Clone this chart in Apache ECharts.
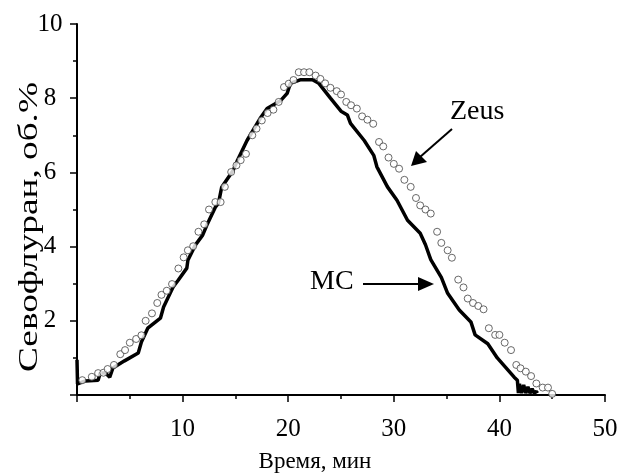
<!DOCTYPE html>
<html>
<head>
<meta charset="utf-8">
<script src="https://cdn.jsdelivr.net/npm/echarts@6/dist/echarts.min.js"></script>
<style>
  html, body { margin: 0; padding: 0; background: #fff; }
  #chart { width: 619px; height: 476px; }
</style>
</head>
<body>
<div id="chart"></div>
<script>
// оси
const xTicks = [0, 10, 20, 30, 40, 50];
const yTicks = [0, 2, 4, 6, 8, 10];

// МС (масс-спектрометр), время мин / об.%
const mcTime = [0, 0.05, 0.8, 2.0, 2.2, 2.7, 3.1, 3.4, 4.5, 5.8, 6.1, 6.7, 7.9, 8.2, 9.1, 9.6,
  10.4, 10.5, 11.2, 11.9, 12.3, 13.1, 13.4, 13.7, 14.8, 15.2, 16.1, 17.4, 18.0, 19.3, 19.9,
  20.2, 21.2, 22.3, 22.9, 24.0, 25.0, 25.6, 25.9, 27.2, 28.1, 28.4, 29.4, 30.3, 31.3, 32.5,
  33.0, 33.5, 34.5, 35.1, 36.2, 37.3, 37.7, 38.9, 39.8, 41.4, 41.7, 41.8, 41.9, 42.1, 42.3,
  42.5, 42.7, 42.9, 43.1, 43.3, 43.5, 43.6];
const mcValue = [0.95, 0.3, 0.38, 0.40, 0.59, 0.59, 0.48, 0.73, 0.92, 1.13, 1.43, 1.80, 2.07, 2.37, 2.91, 3.10,
  3.42, 3.63, 4.04, 4.31, 4.58, 5.06, 5.17, 5.6, 6.06, 6.33, 6.86, 7.48, 7.72, 7.94, 8.13,
  8.40, 8.50, 8.50, 8.40, 8.0, 7.65, 7.55, 7.32, 6.86, 6.46, 6.15, 5.61, 5.25, 4.71, 4.36,
  4.05, 3.65, 3.17, 2.74, 2.29, 1.97, 1.62, 1.38, 1.0, 0.48, 0.40, 0.05, 0.3, 0.05, 0.27,
  0.05, 0.22, 0.05, 0.17, 0.05, 0.1, 0.05];

// Zeus
const zeusTime = [0.5, 1.4, 2.0, 2.5, 2.9, 3.5, 4.1, 4.55, 5.0, 5.6, 6.1, 6.5, 7.1, 7.6, 8.0, 8.5, 9.0,
  9.6, 10.1, 10.5, 11.0, 11.5, 12.05, 12.5, 13.1, 13.6, 14.0, 14.6, 15.1, 15.5, 16.0, 16.6, 17.0,
  17.5, 18.05, 18.6, 19.1, 19.6, 20.05, 20.5, 21.0, 21.5, 22.0, 22.6, 23.05, 23.5, 24.0, 24.6,
  25.0, 25.5, 25.95, 26.5, 27.0, 27.5, 28.05, 28.6, 29.0, 29.5, 30.0, 30.5, 31.0, 31.6, 32.1,
  32.5, 33.0, 33.5, 34.1, 34.5, 35.1, 35.5, 36.1, 36.6, 37.0, 37.5, 38.0, 38.5, 39.0, 39.6,
  40.0, 40.5, 41.1, 41.6, 42.0, 42.5, 43.0, 43.5, 44.1, 44.6, 45.0];
const zeusValue = [0.40, 0.49, 0.59, 0.60, 0.70, 0.81, 1.10, 1.21, 1.41, 1.51, 1.61, 2.0, 2.2, 2.48, 2.70, 2.81, 2.99,
  3.41, 3.71, 3.90, 4.01, 4.40, 4.60, 5.0, 5.2, 5.2, 5.61, 6.01, 6.19, 6.33, 6.5, 7.0, 7.18,
  7.40, 7.60, 7.69, 7.90, 8.30, 8.39, 8.49, 8.70, 8.70, 8.70, 8.61, 8.52, 8.40, 8.28, 8.19,
  8.10, 7.90, 7.81, 7.72, 7.51, 7.42, 7.31, 6.82, 6.70, 6.40, 6.23, 6.10, 5.80, 5.61, 5.31,
  5.11, 5.0, 4.89, 4.40, 4.10, 3.90, 3.70, 3.11, 2.90, 2.60, 2.48, 2.40, 2.31, 1.80, 1.62,
  1.62, 1.41, 1.21, 0.81, 0.72, 0.63, 0.51, 0.31, 0.20, 0.20, 0.03];

const font = '"Liberation Serif", "Times New Roman", serif';

const drawChart = function () {
    let myChart = echarts.init(document.getElementById('chart'));

    let mcData = mcTime.map((t, i) => [t, mcValue[i]]);
    let zeusData = zeusTime.map((t, i) => [t, zeusValue[i]]);

    let axisCommon = {
        axisLine: { show: true, onZero: false, lineStyle: { color: '#000', width: 2 } },
        axisTick: { show: true, inside: false, length: 7, lineStyle: { color: '#000', width: 1.5 } },
        minorTick: { show: true, splitNumber: 2, length: 4, lineStyle: { color: '#000', width: 1.5 } },
        splitLine: { show: false }
    };

    let option = {
        animation: false,
        backgroundColor: '#fff',
        grid: { left: 77, right: 14, top: 24, bottom: 81, outerBoundsMode: 'none' },
        xAxis: Object.assign({}, axisCommon, {
            type: 'value',
            min: xTicks[0],
            max: xTicks[xTicks.length - 1],
            interval: xTicks[1] - xTicks[0],
            axisLabel: {
                margin: 22, fontFamily: font, fontSize: 25, color: '#000',
                formatter: v => v === 0 ? '' : v
            }
        }),
        yAxis: Object.assign({}, axisCommon, {
            type: 'value',
            min: yTicks[0],
            max: yTicks[yTicks.length - 1],
            interval: yTicks[1] - yTicks[0],
            axisLabel: {
                margin: 27, align: 'center', fontFamily: font, fontSize: 25, color: '#000',
                formatter: v => v === 0 ? '' : v
            }
        }),
        series: [
            {
                name: 'MC',
                type: 'line',
                data: mcData,
                showSymbol: false,
                symbol: 'none',
                lineStyle: { color: '#000', width: 3.5 },
                z: 2
            },
            {
                name: 'Zeus',
                type: 'scatter',
                data: zeusData,
                symbol: 'circle',
                symbolSize: 7,
                itemStyle: { color: '#fff', borderColor: '#444', borderWidth: 1 },
                z: 3
            }
        ],
        graphic: [
            // подписи осей
            { type: 'text', x: 315, y: 462,
              style: { text: 'Время, мин', font: '23px ' + font, fill: '#000',
                       align: 'center', verticalAlign: 'middle' } },
            { type: 'text', x: 30, y: 227, rotation: Math.PI / 2, scaleX: 1.38,
              style: { text: 'Севофлуран, об.%', font: '27px ' + font, fill: '#000',
                       align: 'center', verticalAlign: 'middle' } },
            // стрелки
            { type: 'text', left: 450, top: 98,
              style: { text: 'Zeus', font: '28px ' + font, fill: '#000' } },
            { type: 'line', shape: { x1: 452, y1: 129, x2: 420, y2: 157 },
              style: { stroke: '#000', lineWidth: 2 } },
            { type: 'polygon', shape: { points: [[411, 166], [416, 151], [427, 162]] },
              style: { fill: '#000' } },
            { type: 'text', left: 310, top: 268,
              style: { text: 'MC', font: '28px ' + font, fill: '#000' } },
            { type: 'line', shape: { x1: 363, y1: 284, x2: 420, y2: 284 },
              style: { stroke: '#000', lineWidth: 2 } },
            { type: 'polygon', shape: { points: [[434, 284], [418, 277], [418, 291]] },
              style: { fill: '#000' } }
        ]
    };

    myChart.setOption(option);
};

drawChart();
</script>
</body>
</html>
